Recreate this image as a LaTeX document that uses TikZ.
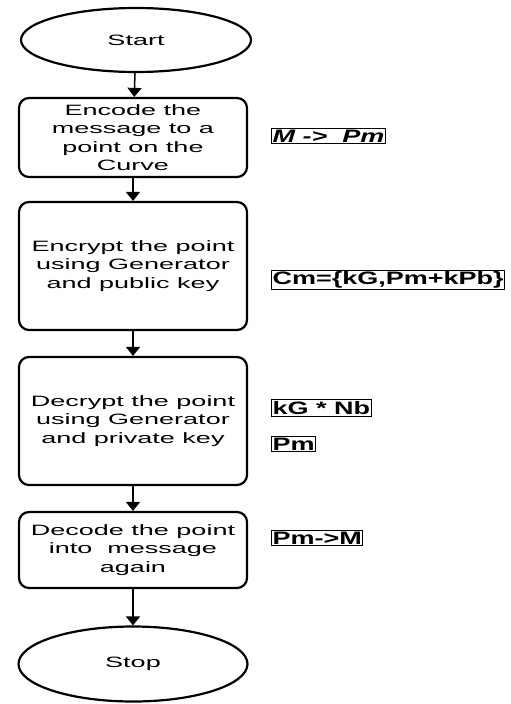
\documentclass[tikz,border=0pt]{standalone}
\usepackage{fontspec}
\setmainfont{Liberation Sans}[FakeStretch=1.8]
\newfontfamily\eqnfont{Liberation Sans}[FakeStretch=1.5]
\usetikzlibrary{shapes.geometric,arrows.meta}

\begin{document}
\begin{tikzpicture}[x=1pt,y=-1pt,
    term/.style={ellipse,draw,line width=2.2pt,minimum width=230pt,minimum height=64pt,inner sep=0pt},
    stepbox/.style={draw,line width=2.2pt,rounded corners=10pt,minimum width=228pt,align=center,inner sep=0pt},
    eqn/.style={draw,line width=1.2pt,anchor=west,inner xsep=1pt,inner ysep=1.5pt,font=\eqnfont\fontsize{18}{20}\selectfont\bfseries},
    flow/.style={line width=1.5pt,-{Triangle[width=14pt,length=9pt]}},
    every node/.style={font=\fontsize{15}{18.3}\selectfont}]
  \useasboundingbox (0,0) rectangle (511,704);

  \node[term] (start) at (136,40) {Start};
  \node[stepbox,minimum height=79pt] (encode) at (133,137.5) {Encode the\\message to a\\point on the\\Curve};
  \node[stepbox,minimum height=128pt] (encrypt) at (133,266) {Encrypt the point\\using Generator\\and public key};
  \node[stepbox,minimum height=128pt] (decrypt) at (133,421) {Decrypt the point\\using Generator\\and private key};
  \node[stepbox,minimum height=76pt] (decode) at (133,550) {Decode the point\\into\ \ message\\again};
  \node[term,minimum width=229pt,minimum height=75pt] (stop) at (133,664) {Stop};

  \draw[flow] (start) -- (encode);
  \draw[flow] (encode) -- (encrypt);
  \draw[flow] (encrypt) -- (decrypt);
  \draw[flow] (decrypt) -- (decode);
  \draw[flow] (decode) -- (stop);

  \node[eqn] (map) at (271,136) {\itshape M -> \ Pm};
  \node[eqn] (cipher) at (271,280) {Cm=\{kG,Pm+kPb\}};
  \node[eqn] (shared) at (271,408) {kG * Nb};
  \node[eqn] (plain) at (271,444) {Pm};
  \node[eqn] (back) at (271,538) {Pm->M};
\end{tikzpicture}
\end{document}
